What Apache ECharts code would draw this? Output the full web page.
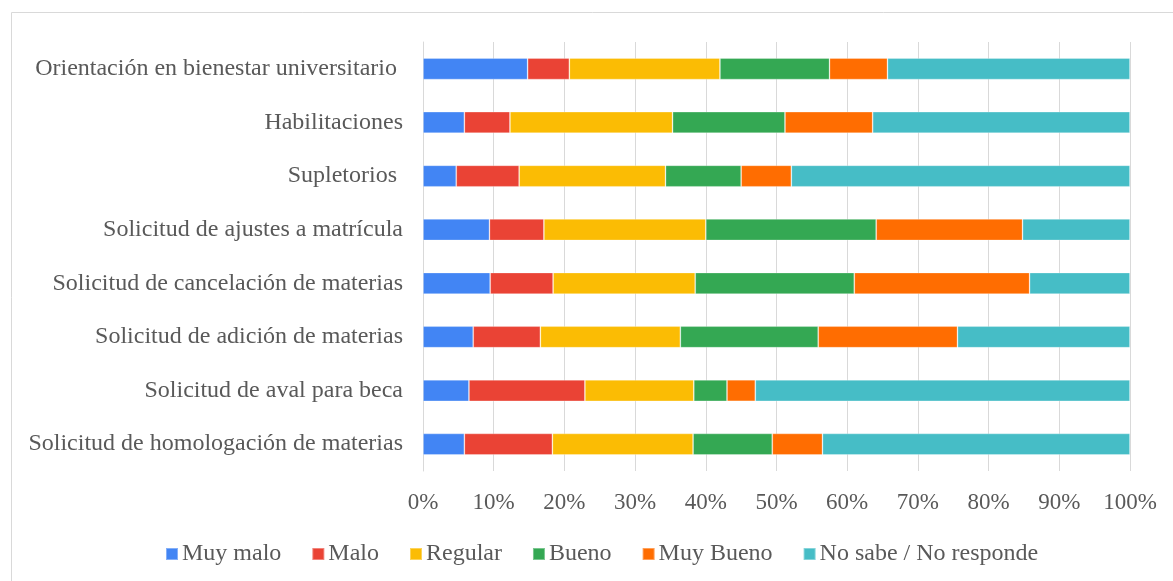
<!DOCTYPE html>
<html><head><meta charset="utf-8">
<script src="https://cdn.jsdelivr.net/npm/echarts@6/dist/echarts.min.js"></script>
<style>html,body{margin:0;padding:0;background:#fff}#c{width:1173px;height:581px}</style>
</head><body><div id="c"></div>
<script>
const categories = [
  'Orientación en bienestar universitario ',
  'Habilitaciones',
  'Supletorios ',
  'Solicitud de ajustes a matrícula',
  'Solicitud de cancelación de materias',
  'Solicitud de adición de materias',
  'Solicitud de aval para beca',
  'Solicitud de homologación de materias'
];
const seriesNames = ['Muy malo', 'Malo', 'Regular', 'Bueno', 'Muy Bueno', 'No sabe / No responde'];
const muyMalo   = [14.8, 5.85, 4.7, 9.4, 9.5, 7.1, 6.5, 5.85];
const malo      = [5.9, 6.45, 8.9, 7.7, 8.9, 9.5, 16.4, 12.45];
const regular   = [21.3, 23.0, 20.7, 22.9, 20.1, 19.8, 15.4, 19.9];
const bueno     = [15.5, 15.9, 10.7, 24.1, 22.5, 19.5, 4.7, 11.2];
const muyBueno  = [8.2, 12.4, 7.1, 20.7, 24.8, 19.7, 4.0, 7.1];
const noSabe    = [34.3, 36.4, 47.9, 15.2, 14.2, 24.4, 53.0, 43.5];
const tickLabels = ['0%','10%','20%','30%','40%','50%','60%','70%','80%','90%','100%'];
const colors = ['#4285F4', '#EA4335', '#FBBC04', '#34A853', '#FF6D01', '#46BDC6'];
const values = [muyMalo, malo, regular, bueno, muyBueno, noSabe];

const font = 'Liberation Serif';
const txt = '#595959';
const chart = echarts.init(document.getElementById('c'), null, {renderer: 'canvas'});
chart.setOption({
  animation: false,
  color: colors,
  graphic: [{
    type: 'rect', shape: {x: 11.5, y: 12.5, width: 1200, height: 600},
    style: {fill: 'none', stroke: '#d9d9d9', lineWidth: 1}, silent: true
  }],
  grid: {left: 423, right: 43, top: 42, height: 429, containLabel: false},
  legend: {
    top: 537, left: 160, itemWidth: 12, itemHeight: 12, itemGap: 30,
    icon: 'rect',
    textStyle: {fontFamily: font, fontSize: 24, color: txt, padding: [0, 0, 0, -1]},
    data: seriesNames
  },
  xAxis: {
    type: 'value', min: 0, max: 100, interval: 10,
    axisLine: {show: false}, axisTick: {show: false},
    splitLine: {lineStyle: {color: '#d9d9d9', width: 1}},
    axisLabel: {
      margin: 20, fontFamily: font, fontSize: 23, color: txt,
      formatter: function (v) { return tickLabels[Math.round(v / 10)]; }
    }
  },
  yAxis: {
    type: 'category', inverse: true, data: categories,
    axisLine: {show: true, lineStyle: {color: '#d9d9d9'}},
    axisTick: {show: false},
    axisLabel: {margin: 20, fontFamily: font, fontSize: 24, color: txt}
  },
  series: seriesNames.map(function (n, i) {
    return {
      name: n, type: 'bar', stack: 'total', barWidth: 21.5,
      itemStyle: {borderColor: 'rgba(255,255,255,0.35)', borderWidth: 0.8},
      data: values[i]
    };
  })
});
</script></body></html>
